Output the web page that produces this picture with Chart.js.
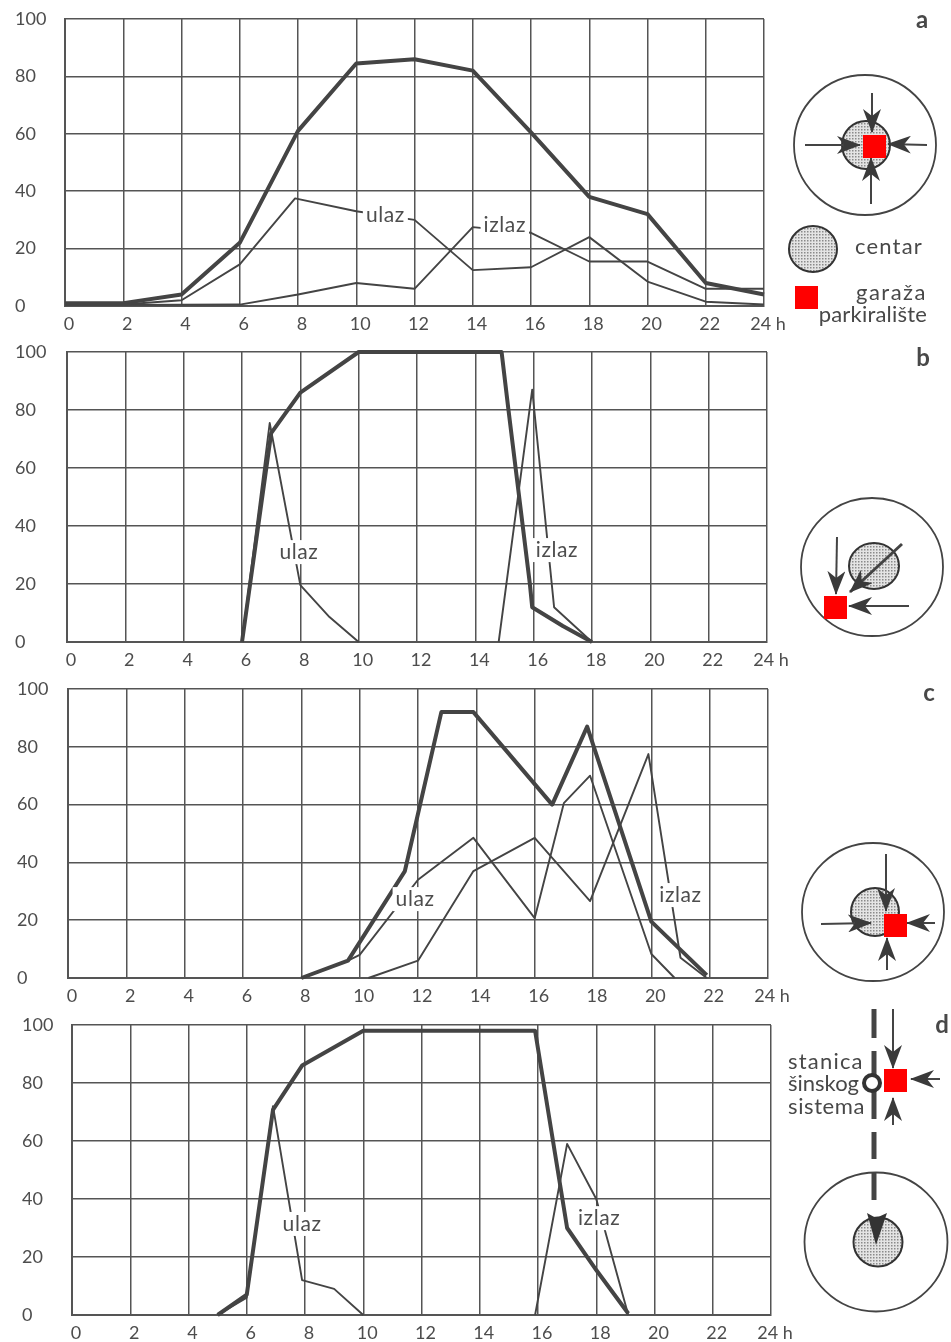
<!DOCTYPE html>
<html>
<head>
<meta charset="utf-8">
<title>ulaz / izlaz</title>
<script src="https://cdn.jsdelivr.net/npm/chart.js@4"></script>
<style>
  html, body { margin: 0; background: #fff; }
  #page { position: relative; width: 951px; height: 1342px; overflow: hidden; }
  canvas { position: absolute; left: 0; }
  svg { position: absolute; left: 0; top: 0; }
  svg text { font-family: Lato, sans-serif; font-size: 22px; fill: #484848; }
</style>
</head>
<body>
<div id="page">
  <canvas id="chartA"></canvas>
  <canvas id="chartB"></canvas>
  <canvas id="chartC"></canvas>
  <canvas id="chartD"></canvas>
  <svg id="schemes" width="951" height="1342"></svg>
</div>
<script>
// Tick labels
const hourLabels = ['0', '2', '4', '6', '8', '10', '12', '14', '16', '18', '20', '22', '24 h'];

// Values as [hour, percent]
const totalA = [[0, 1], [2, 1], [4, 4], [6, 22], [8, 61], [10, 84.5], [12, 86], [14, 82], [16, 60.5], [18, 38], [20, 32], [22, 8], [24, 4]];
const ulazA = [[0, 0.5], [2, 0.5], [4, 2], [6, 14.5], [7.9, 37.5], [10, 33], [12, 30], [14, 12.5], [16, 13.5], [18, 24], [20, 8.5], [22, 1.5], [24, 0.5]];
const izlazA = [[0, 0.3], [6, 0.5], [8, 4], [10, 8], [12, 6], [14, 27.5], [16, 25.5], [18, 15.5], [20, 15.5], [22, 6], [24, 6]];

const totalB = [[6, 0], [7, 72], [8, 86], [10, 100], [14.9, 100], [15.13, 80.5], [15.87, 20], [15.95, 12], [17, 5.5], [18, 0]];
const ulazB = [[6, 0], [6.95, 75.5], [8, 19.6], [9, 8.6], [10, 0]];
const izlazB = [[14.8, 0], [15.95, 87], [16.7, 12], [18, 0]];

const totalC = [[8, 0], [9.6, 6], [11.55, 37], [12.8, 92], [13.9, 92], [16.6, 60], [17.8, 87], [20, 19.5], [21.9, 1]];
const ulazC = [[8, 0], [9.6, 6], [10, 8], [12, 34], [13.9, 48.5], [16, 20.7], [17, 60.5], [17.9, 70], [20, 8.3], [20.8, 0]];
const izlazC = [[10.3, 0], [12, 6], [13.9, 37], [16, 48.5], [17.9, 26.6], [19.9, 77.5], [21, 7], [21.9, 0]];

const totalD = [[5, 0], [6, 7], [6.9, 70.7], [7.9, 86], [10, 98], [15.9, 98], [17, 30], [18, 15.5], [19.1, 0.5]];
const ulazD = [[5, 0], [6, 6], [6.9, 72], [7.9, 12], [9, 9], [10, 0]];
const izlazD = [[15.9, 0], [17, 59], [18, 40], [19.1, 0]];

// Inline captions as [text, hour, percent]
const captionsA = [['ulaz', 11, 31.7], ['izlaz', 15.1, 28]];
const captionsB = [['ulaz', 7.95, 31], ['izlaz', 16.8, 31.7]];
const captionsC = [['ulaz', 11.9, 27.3], ['izlaz', 21, 28.7]];
const captionsD = [['ulaz', 7.9, 31.4], ['izlaz', 18.1, 33.4]];

const inkColor = '#444444';
const gridColor = '#555555';
const textColor = '#4d4d4d';
const fontFamily = 'Lato, sans-serif';

// Draws the "ulaz" / "izlaz" words over the line, with the paper showing behind
const captionPlugin = {
  id: 'captions',
  afterDatasetsDraw(chart, args, opts) {
    const c = chart.ctx;
    c.save();
    c.font = `21px ${fontFamily}`;
    c.letterSpacing = '0.6px';
    c.textAlign = 'center';
    c.textBaseline = 'middle';
    opts.items.forEach(([text, hour, percent]) => {
      const px = chart.scales.x.getPixelForValue(hour);
      const py = chart.scales.y.getPixelForValue(percent);
      const w = c.measureText(text).width + 6;
      c.fillStyle = '#fff';
      c.fillRect(px - w / 2, py - 12, w, 24);
      c.fillStyle = textColor;
      c.fillText(text, px, py);
    });
    c.restore();
  },
};

function drawPanel(id, box, total, ulaz, izlaz, captions) {
  const canvas = document.getElementById(id);
  canvas.style.top = box.top + 'px';
  canvas.width = 951;
  canvas.height = box.height;
  const line = (label, data, width) => ({
    label,
    data,
    borderColor: inkColor,
    borderWidth: width,
    pointRadius: 0,
    tension: 0,
    borderJoinStyle: 'round',
    clip: false,
  });
  const grid = { color: gridColor, lineWidth: 1.5, drawTicks: false };
  const tickFont = { family: fontFamily, size: 18 };

  return new Chart(canvas.getContext('2d'), {
    type: 'line',
    data: {
      datasets: [line('ulaz', ulaz, 1.9), line('izlaz', izlaz, 1.9), line('ukupno', total, 4)],
    },
    options: {
      responsive: false,
      animation: false,
      layout: {
        autoPadding: false,
        padding: { left: box.labelLeft, right: 951 - box.right, top: box.plotTop - box.top, bottom: 0 },
      },
      scales: {
        x: {
          type: 'linear',
          min: 0,
          max: 24,
          grid,
          border: { color: gridColor, width: 2 },
          afterBuildTicks: s => { s.ticks = hourLabels.map((_, i) => ({ value: i * 2 })); },
          afterFit: s => { s.height = box.height - (box.plotBottom - box.top); },
          ticks: {
            color: textColor,
            font: tickFont,
            padding: 7,
            labelOffset: 4,
            maxRotation: 0,
            autoSkip: false,
            callback: v => hourLabels[v / 2],
          },
        },
        y: {
          min: 0,
          max: 100,
          grid,
          border: { color: gridColor, width: 2 },
          afterFit: s => { s.width = box.left - box.labelLeft; },
          ticks: { stepSize: 20, color: textColor, font: tickFont, crossAlign: 'far' },
        },
      },
      plugins: {
        legend: { display: false },
        captions: { items: captions },
      },
    },
    plugins: [captionPlugin],
  });
}

drawPanel('chartA', { top: 0, height: 338, plotTop: 19, plotBottom: 306, left: 65, right: 764, labelLeft: 15 }, totalA, ulazA, izlazA, captionsA);
drawPanel('chartB', { top: 338, height: 336, plotTop: 352, plotBottom: 642, left: 67, right: 767, labelLeft: 15 }, totalB, ulazB, izlazB, captionsB);
drawPanel('chartC', { top: 674, height: 336, plotTop: 689, plotBottom: 978, left: 68, right: 768, labelLeft: 17 }, totalC, ulazC, izlazC, captionsC);
drawPanel('chartD', { top: 1010, height: 332, plotTop: 1025, plotBottom: 1315, left: 72, right: 771, labelLeft: 22 }, totalD, ulazD, izlazD, captionsD);

// Little location sketches to the right of the plots
const ring = (x, y, rx, ry) => `<ellipse cx="${x}" cy="${y}" rx="${rx}" ry="${ry}" fill="none" stroke="#444" stroke-width="1.8"/>`;
const disk = (x, y, rx, ry) => `<ellipse cx="${x}" cy="${y}" rx="${rx}" ry="${ry}" fill="url(#stipple)" stroke="#333" stroke-width="2"/>`;
const garage = (x, y) => `<rect x="${x}" y="${y}" width="23" height="23" fill="#ff0000"/>`;
const arrow = (x1, y1, x2, y2, w = 2) => `<line x1="${x1}" y1="${y1}" x2="${x2}" y2="${y2}" stroke="#444" stroke-width="${w}" marker-end="url(#head)"/>`;
const label = (x, y, text, anchor = 'start', spacing = 0) => `<text x="${x}" y="${y}" text-anchor="${anchor}" dominant-baseline="middle" style="letter-spacing:${spacing}px">${text}</text>`;
const letter = (x, y, text) => `<text x="${x}" y="${y}" text-anchor="middle" dominant-baseline="middle" style="font-size:24px;font-weight:700">${text}</text>`;
const rail = (y1, y2) => `<line x1="874" y1="${y1}" x2="874" y2="${y2}" stroke="#444" stroke-width="5"/>`;

document.getElementById('schemes').innerHTML = `
  <defs>
    <pattern id="stipple" width="3" height="3" patternUnits="userSpaceOnUse">
      <rect width="3" height="3" fill="#e4e4e4"/>
      <rect width="1.5" height="1.5" fill="#8a8a8a"/>
    </pattern>
    <marker id="head" viewBox="0 0 24 18" refX="23" refY="9" markerWidth="24" markerHeight="18" markerUnits="userSpaceOnUse" orient="auto">
      <path d="M0,0 L24,9 L0,18 L7,9 Z" fill="#3a3a3a"/>
    </marker>
  </defs>

  ${letter(922, 22, 'a')}
  ${ring(865, 145, 71, 70)}${disk(866, 145, 24, 24)}
  ${arrow(872, 93, 872, 132)}${arrow(805, 145, 860, 145)}${arrow(927, 145, 888, 144)}${arrow(871, 204, 871, 158)}
  ${garage(863, 135)}
  ${disk(813, 249, 24, 23)}
  ${label(923, 248, 'centar', 'end', 1.2)}
  ${garage(795, 286)}
  ${label(927, 294, 'garaža', 'end', 1.5)}
  ${label(927, 316, 'parkiralište', 'end', 0.2)}

  ${letter(923, 360, 'b')}
  ${ring(872, 567, 71, 69)}${disk(874, 566, 25, 23)}
  ${arrow(837, 537, 836, 594)}${arrow(909, 606, 849, 606)}${arrow(902, 544, 850, 592, 3)}
  ${garage(824, 596)}

  ${letter(929, 695, 'c')}
  ${ring(873, 912, 71, 69)}${disk(875, 912, 24, 24)}
  ${arrow(886, 854, 886, 911)}${arrow(821, 924, 871, 923)}${arrow(935, 923, 907, 923)}${arrow(887, 970, 887, 938)}
  ${garage(884, 914)}

  ${letter(942, 1027, 'd')}
  ${rail(1009, 1038)}${rail(1051, 1119)}${rail(1132, 1159)}${rail(1173, 1200)}
  <circle cx="872" cy="1083" r="8" fill="#fff" stroke="#333" stroke-width="4"/>
  ${arrow(893, 1009, 893, 1068)}${arrow(940, 1079, 911, 1079)}${arrow(893, 1125, 893, 1098)}
  ${garage(884, 1069)}
  ${label(788, 1063, 'stanica', 'start', 1.2)}
  ${label(788, 1085, 'šinskog', 'start', 0)}
  ${label(788, 1108, 'sistema', 'start', 0.6)}
  ${ring(876, 1242, 71.5, 69.5)}${disk(878, 1242, 24.5, 24.5)}
  <path d="M867,1213 L876,1218 L887,1213 L876,1245 Z" fill="#333"/>
`;
</script>
</body>
</html>
